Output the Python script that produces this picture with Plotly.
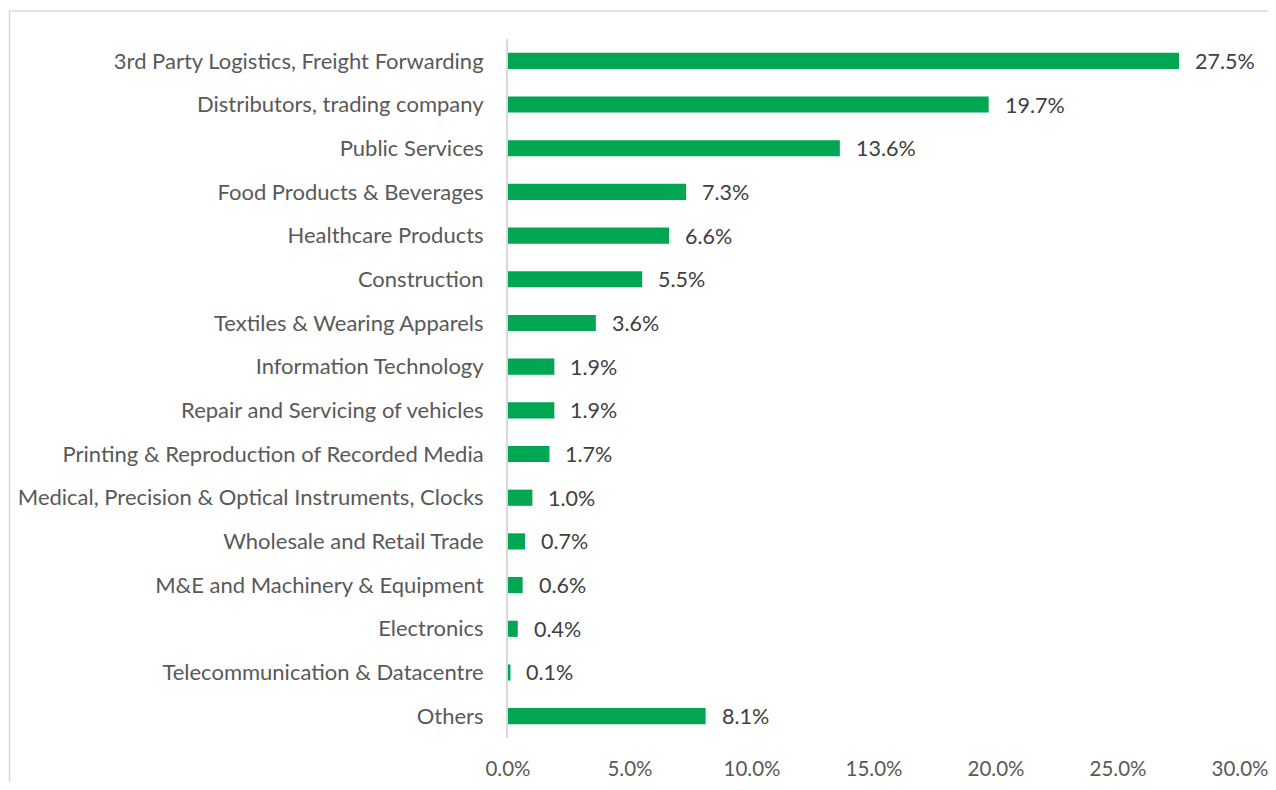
import plotly.graph_objects as go

categories = [
    "3rd Party Logistics, Freight Forwarding",
    "Distributors, trading company",
    "Public Services",
    "Food Products & Beverages",
    "Healthcare Products",
    "Construction",
    "Textiles & Wearing Apparels",
    "Information Technology",
    "Repair and Servicing of vehicles",
    "Printing & Reproduction of Recorded Media",
    "Medical, Precision & Optical Instruments, Clocks",
    "Wholesale and Retail Trade",
    "M&E and Machinery & Equipment",
    "Electronics",
    "Telecommunication & Datacentre",
    "Others",
]
shares = [27.5, 19.7, 13.6, 7.3, 6.6, 5.5, 3.6, 1.9, 1.9, 1.7, 1.0, 0.7, 0.6, 0.4, 0.1, 8.1]
x_ticks = [0, 5, 10, 15, 20, 25, 30]

FONT = "Lato, Calibri, sans-serif"
GREEN = "#00A651"

fig = go.Figure()
fig.add_trace(
    go.Bar(
        x=shares,
        y=categories,
        orientation="h",
        width=0.37,
        marker=dict(color=GREEN, line=dict(width=0)),
        hoverinfo="skip",
    )
)

# value labels to the right of each bar
for cat, val in zip(categories, shares):
    fig.add_annotation(
        x=val,
        y=cat,
        text=f"{val:.1f}%",
        showarrow=False,
        xanchor="left",
        xshift=14,
        font=dict(family=FONT, size=21.5, color="#404040"),
    )

# chart-area border (only top/left edges visible in the frame)
fig.add_shape(
    type="rect",
    xref="paper",
    yref="paper",
    x0=-0.681,
    x1=1.06,
    y0=-0.1,
    y1=1.040,
    line=dict(color="#D9D9D9", width=1.5),
    layer="below",
)

# page body adds 8px on each side, so keep the figure inside the window
fig.update_layout(
    width=1260,
    height=774,
    margin=dict(l=500, r=28, t=31, b=44),
    paper_bgcolor="white",
    plot_bgcolor="white",
    showlegend=False,
    bargap=0.6,
    xaxis=dict(
        range=[0, 30],
        tickvals=x_ticks,
        ticktext=[f"{v:.1f}%" for v in x_ticks],
        showgrid=False,
        zeroline=False,
        showline=False,
        ticks="",
        ticklabelstandoff=16,
        ticklabeloverflow="allow",
        automargin=False,
        tickfont=dict(family=FONT, size=20.5, color="#595959"),
        fixedrange=True,
    ),
    yaxis=dict(
        autorange="reversed",
        showgrid=False,
        zeroline=False,
        showline=True,
        linecolor="#D9D9D9",
        linewidth=2,
        ticks="",
        ticklabelstandoff=18,
        automargin=False,
        tickfont=dict(family=FONT, size=22, color="#595959"),
        fixedrange=True,
    ),
)

fig.write_html("out.html")
